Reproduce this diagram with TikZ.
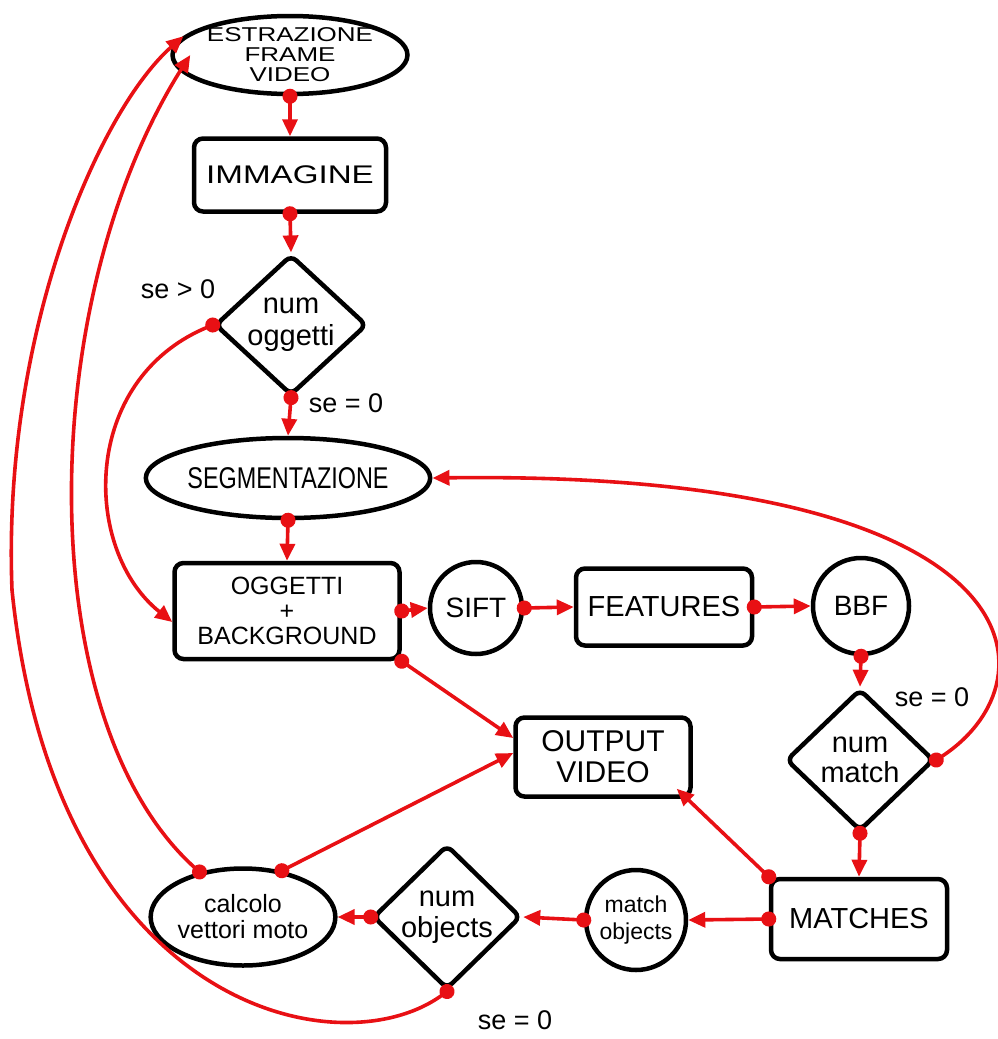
\documentclass[tikz,border=0pt]{standalone}
\usepackage{fontspec}
\setmainfont{Liberation Sans}
\newfontfamily\widesf[FakeStretch=1.3]{Liberation Sans}
\newfontfamily\narrowsf[FakeStretch=0.78]{Liberation Sans}
\usepackage{tikz}
\usetikzlibrary{arrows.meta, positioning, shapes.geometric}
\definecolor{flowred}{RGB}{232,16,20}
\tikzset{
  block/.style = {rectangle, draw=black, line width=4.5pt, rounded corners=9pt,
                  align=center, inner sep=0pt},
  oval/.style  = {ellipse, draw=black, line width=4.5pt, align=center,
                  inner sep=0pt},
  rnd/.style   = {circle, draw=black, line width=4.5pt, align=center,
                  inner sep=0pt},
  test/.style  = {diamond, draw=black, line width=4.5pt, rounded corners=7pt,
                  align=center, inner sep=0pt},
  lbl/.style   = {font=\fontsize{27}{27}\selectfont},
  arr/.style   = {{Circle[length=15pt]}-{Triangle[length=17pt, width=15pt]},
                  shorten <=-7.5pt, color=flowred, line width=3.6pt},
}

\begin{document}
\begin{tikzpicture}[x=1pt, y=-1pt]
  \useasboundingbox (0,0) rectangle (998,1039);

  % left column
  \node[oval, minimum width=216pt, minimum height=78pt,
        font=\widesf\fontsize{20}{20}\selectfont] (estr) at (290,55)
        {ESTRAZIONE\\FRAME\\VIDEO};
  \node[block, minimum width=192pt, minimum height=73pt,
        font=\widesf\fontsize{25.5}{26}\selectfont] (imm) at (290,175) {IMMAGINE};
  \node[test, minimum width=152pt, minimum height=132pt,
        font=\fontsize{29}{32}\selectfont] (numogg) at (291,325) {num\\oggetti};
  \node[oval, minimum width=270pt, minimum height=80pt,
        font=\narrowsf\fontsize{30}{30}\selectfont] (seg) at (288,478) {SEGMENTAZIONE};
  \node[block, minimum width=225pt, minimum height=96pt,
        font=\fontsize{25}{25}\selectfont] (ogg) at (287,611) {OGGETTI\\+\\BACKGROUND};

  % feature row
  \node[rnd, minimum size=92pt, font=\fontsize{28}{28}\selectfont] (sift) at (476,608) {SIFT};
  \node[block, minimum width=176pt, minimum height=77pt,
        font=\fontsize{29}{29}\selectfont] (feat) at (664,607) {FEATURES};
  \node[rnd, minimum size=96pt, font=\fontsize{28}{28}\selectfont] (bbf) at (861,606) {BBF};

  % matching
  \node[test, minimum width=148pt, minimum height=142pt,
        font=\fontsize{29}{30}\selectfont] (nummatch) at (860,760) {num\\match};
  \node[block, minimum width=175pt, minimum height=79pt,
        font=\fontsize{30}{31}\selectfont] (out) at (603,757) {OUTPUT\\VIDEO};
  \node[block, minimum width=176pt, minimum height=80pt,
        font=\fontsize{29}{29}\selectfont] (matches) at (859,919) {MATCHES};

  % bottom row
  \node[rnd, minimum size=100pt, font=\fontsize{23}{27}\selectfont] (matchobj) at (636,920)
        {match\\objects};
  \node[test, minimum width=148pt, minimum height=140pt,
        font=\fontsize{29}{31}\selectfont] (numobj) at (447,917) {num\\objects};
  \node[oval, minimum width=173pt, minimum height=97pt,
        font=\fontsize{25}{26}\selectfont] (calc) at (243,917) {calcolo\\vettori moto};

  % labels
  \node[lbl] (gtzero) at (178,289) {se > 0};
  \node[lbl] (zeroogg) at (346,403) {se = 0};
  \node[lbl] (zeromatch) at (932,697) {se = 0};
  \node[lbl] (zeroobj) at (515,1020) {se = 0};

  \draw[arr] (estr.south) -- (imm.north);
  \draw[arr] (imm.south) -- (numogg.north);
  \draw[arr] (numogg.south) -- (seg.north);
  \draw[arr] (numogg.west) .. controls (80,380) and (82,550) .. ([yshift=-11pt]ogg.west);
  \draw[arr] (seg.south) -- (ogg.north);
  \draw[arr] (ogg.east) -- (sift.west);
  \draw[arr] (sift.east) -- (feat.west);
  \draw[arr] (feat.east) -- (bbf.west);
  \draw[arr] (bbf.south) -- (nummatch.north);
  \draw[arr] (nummatch.east) .. controls (1060,680) and (1040,470) .. (seg.east);
  \draw[arr] (nummatch.south) -- (matches.north);
  \draw[arr] (ogg.south east) -- ([yshift=19pt]out.west);
  \draw[arr] (matches.north west) -- ([xshift=-16pt, yshift=10pt]out.south east);
  \draw[arr] (matches.west) -- (matchobj.east);
  \draw[arr] (matchobj.west) -- (numobj.east);
  \draw[arr] (numobj.west) -- (calc.east);
  \draw[arr] (calc.50) -- ([yshift=4pt]out.west);
  \draw[arr] (calc.134) .. controls (30,720) and (35,300) .. ([xshift=20pt]estr.west);
  \draw[arr] (numobj.south) .. controls (340,1070) and (55,1010) .. (12,590)
             .. controls (2,330) and (100,110) .. (estr.170);
\end{tikzpicture}
\end{document}
